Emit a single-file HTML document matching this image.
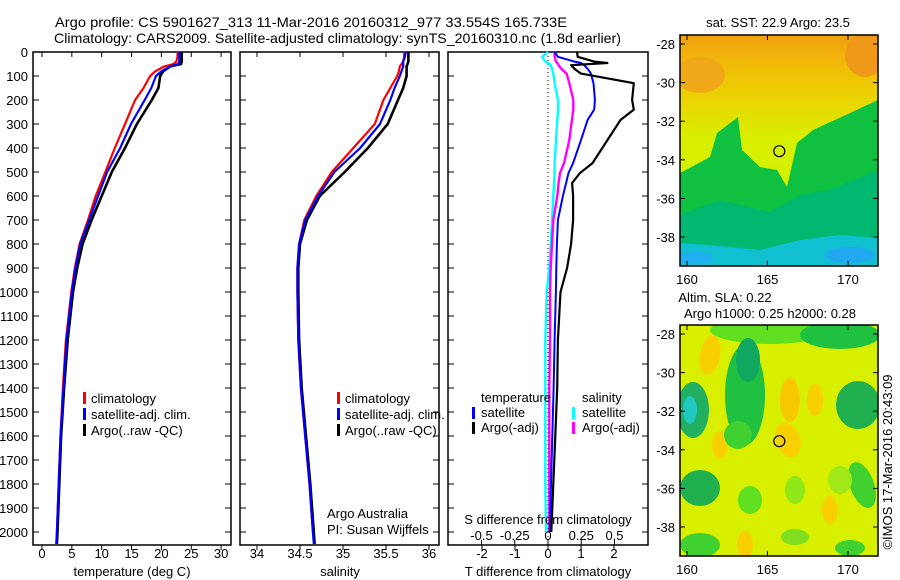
<!DOCTYPE html>
<html><head><meta charset="utf-8"><title>Argo profile</title>
<style>
html,body{margin:0;padding:0;background:#fff;}
svg{display:block;font-family:"Liberation Sans",sans-serif;}
text{fill:#000;}
</style></head>
<body>
<svg id="fig" width="900" height="580" viewBox="0 0 900 580" xmlns="http://www.w3.org/2000/svg">
<text x="55" y="27" font-size="14" textLength="512" lengthAdjust="spacingAndGlyphs">Argo profile: CS 5901627_313 11-Mar-2016 20160312_977 33.554S 165.733E</text>
<text x="54" y="43" font-size="14" textLength="567" lengthAdjust="spacingAndGlyphs">Climatology: CARS2009. Satellite-adjusted climatology: synTS_20160310.nc (1.8d earlier)</text>
<g id="plots"></g>
<g id="maps"></g>
</svg>
<script>
// ---------- data ----------
const depthLevels = [0,20,40,50,60,80,100,150,200,300,400,500,600,700,800,900,1000,1200,1400,1600,1800,2000,2050];
const tempClim    = [22.7,22.7,22.5,22,20.5,19,18.1,17,15.6,13.9,12.2,10.6,9.0,7.7,6.3,5.5,4.9,4.0,3.5,3.1,2.8,2.5,2.4];
const tempSat     = [23.0,23.0,23.0,22.8,21.5,20,19.1,18.3,17.2,14.9,13.1,10.9,9.4,7.9,6.4,5.6,5.0,4.1,3.6,3.1,2.8,2.5,2.4];
const tempArgo    = [23.4,23.4,23.4,23.3,21.5,20.3,19.8,19.5,18.4,15.9,13.9,11.7,10.0,8.3,6.8,5.9,5.2,4.3,3.7,3.2,2.9,2.6,2.5];
const salClim     = [35.71,35.71,35.70,35.68,35.66,35.65,35.63,35.55,35.47,35.37,35.12,34.87,34.69,34.55,34.49,34.47,34.47,34.48,34.51,34.56,34.61,34.65,34.67];
const salSat      = [35.73,35.72,35.70,35.70,35.70,35.68,35.66,35.60,35.55,35.43,35.20,34.90,34.71,34.56,34.49,34.47,34.47,34.48,34.51,34.56,34.61,34.65,34.66];
const salArgo     = [35.76,35.76,35.76,35.75,35.74,35.74,35.74,35.70,35.64,35.52,35.29,35.02,34.73,34.58,34.50,34.48,34.48,34.49,34.52,34.57,34.62,34.66,34.67];
const diffDepths  = [0,20,40,46,55,70,90,130,200,240,283,367,463,504,546,600,700,800,900,1000,1200,1400,1600,1800,2000];
const tDiffSat    = [0.2,0.3,0.8,1.0,1.1,1.2,1.3,1.38,1.42,1.4,1.2,1.0,0.76,0.62,0.55,0.45,0.3,0.27,0.25,0.24,0.2,0.17,0.13,0.09,0.05];
const tDiffArgo   = [0.88,0.9,1.4,1.8,0.7,0.8,1.0,2.6,2.55,2.6,2.2,1.8,1.35,0.97,0.73,0.76,0.76,0.7,0.58,0.38,0.3,0.28,0.22,0.16,0.1];
const sDiffSat    = [0,-0.045,-0.02,0.0,0.02,0.03,0.04,0.05,0.075,0.075,0.07,0.06,0.05,0.05,0.045,0.04,0.03,0.02,0.01,-0.01,-0.02,-0.02,-0.02,-0.02,-0.015];
const sDiffArgo   = [0.05,0.05,0.06,0.07,0.08,0.1,0.14,0.16,0.19,0.19,0.18,0.16,0.12,0.09,0.08,0.07,0.04,0.03,0.02,0.015,0.015,0.01,0.01,0.01,0.01];
const depthTicks  = [0,100,200,300,400,500,600,700,800,900,1000,1100,1200,1300,1400,1500,1600,1700,1800,1900,2000];
const tempTicks   = [0,5,10,15,20,25,30];
const salTicks    = [34,34.5,35,35.5,36];
const tDiffTicks  = [-2,-1,0,1,2];
const sDiffTicks  = [-0.5,-0.25,0,0.25,0.5];
const latTicks    = [-28,-30,-32,-34,-36,-38];
const lonTicks    = [160,165,170];
const argoLon = 165.733, argoLat = -33.554;

// ---------- helpers ----------
const NS='http://www.w3.org/2000/svg';
const plots=document.getElementById('plots');
const maps=document.getElementById('maps');
function mk(tag,attrs,parent){const e=document.createElementNS(NS,tag);for(const k in attrs)e.setAttribute(k,attrs[k]);(parent||plots).appendChild(e);return e;}
const TOP=52, BOT=545;
const yD = d => TOP + d*0.24;
const xT = v => 42 + v*5.97;
const xS = v => 257 + (v-34)*86;
const xTD = v => 548 + v*33;
const xSD = v => 548 + v*133;

function panel(x0,x1,name){
  const r=mk('rect',{x:x0,y:TOP,width:x1-x0,height:BOT-TOP,fill:'none',stroke:'#000','stroke-width':1.5});
  
  
  depthTicks.forEach(d=>{
    const y=yD(d);
    const t1=mk('line',{x1:x0,x2:x0+6,y1:y,y2:y,stroke:'#000'});
    
    
    const t2=mk('line',{x1:x1-6,x2:x1,y1:y,y2:y,stroke:'#000'});
    
    
  });
}
function xticks(ticks,fx,labelY,name,top){
  ticks.forEach(v=>{
    const x=fx(v);
    const l=mk('line',{x1:x,x2:x,y1:BOT,y2:BOT+5,stroke:'#000'});
    
    
    if(top){
      const l2=mk('line',{x1:x,x2:x,y1:TOP,y2:TOP+5,stroke:'#000'});
      
      
    }
    const t=mk('text',{x:x,y:labelY,'font-size':13,'text-anchor':'middle'});
    t.textContent=String(v);
    
    
  });
}
function series(depths,vals,fx,color,w,name){
  const pts=depths.map((d,i)=>fx(vals[i]).toFixed(1)+','+yD(d).toFixed(1)).join(' ');
  const p=mk('polyline',{points:pts,fill:'none',stroke:color,'stroke-width':w,'stroke-linejoin':'round'});
  
  
}
function txt(x,y,s,size,name,anchor){
  const t=mk('text',{x:x,y:y,'font-size':size,'text-anchor':anchor||'start'});
  t.textContent=s;
  
  
  return t;
}
function legendBar(x,y,color,name){
  const r=mk('rect',{x:x,y:y-10,width:3,height:12,fill:color});
  
  
}

// depth axis labels
depthTicks.forEach(d=>{
  txt(28,yD(d)+5,String(d),13,'depth-label','end');
});

// ---------- temperature panel ----------
panel(33,231,'temperature-panel');
xticks(tempTicks,xT,558,'temperature-axis',true);
series(depthLevels,tempClim,xT,'#ff0000',2.2,'temp-climatology-line');
series(depthLevels,tempArgo,xT,'#000000',2.6,'temp-argo-line');
series(depthLevels,tempSat,xT,'#0000ff',2.2,'temp-satellite-line');
txt(132,576,'temperature (deg C)',13,'temperature-axis-title','middle');
legendBar(83,402,'#ff0000','legend-climatology-swatch');
txt(91,403,'climatology',13,'legend-climatology');
legendBar(83,418,'#0000ff','legend-satellite-swatch');
txt(91,419,'satellite-adj. clim.',13,'legend-satellite');
legendBar(83,434,'#000000','legend-argo-swatch');
txt(91,435,'Argo(..raw -QC)',13,'legend-argo');

// ---------- salinity panel ----------
panel(240,439,'salinity-panel');
xticks(salTicks,xS,558,'salinity-axis',true);
series(depthLevels,salClim,xS,'#ff0000',2.2,'sal-climatology-line');
series(depthLevels,salArgo,xS,'#000000',2.6,'sal-argo-line');
series(depthLevels,salSat,xS,'#0000ff',2.2,'sal-satellite-line');
txt(340,576,'salinity',13,'salinity-axis-title','middle');
legendBar(337,402,'#ff0000','sal-legend-climatology-swatch');
txt(345,403,'climatology',13,'sal-legend-climatology');
legendBar(337,418,'#0000ff','sal-legend-satellite-swatch');
txt(345,419,'satellite-adj. clim.',13,'sal-legend-satellite');
legendBar(337,434,'#000000','sal-legend-argo-swatch');
txt(345,435,'Argo(..raw -QC)',13,'sal-legend-argo');
txt(327,518,'Argo Australia',13,'credit-argo-australia');
txt(327,534,'PI: Susan Wijffels',13,'credit-pi');

// ---------- difference panel ----------
panel(448,648,'difference-panel');
const zl=mk('line',{x1:548,x2:548,y1:TOP,y2:BOT,stroke:'#000','stroke-dasharray':'1,3'});


xticks(tDiffTicks,xTD,558,'t-diff-axis',false);
sDiffTicks.forEach(v=>{
  const x=xSD(v);
  const l=mk('line',{x1:x,x2:x,y1:BOT-5,y2:BOT,stroke:'#000'});
  
  
  txt(x,540,String(v),13,'s-diff-label','middle');
});
series(diffDepths,sDiffSat,xSD,'#00ffff',2.4,'s-diff-satellite-line');
series(diffDepths,sDiffArgo,xSD,'#ff00ff',2.4,'s-diff-argo-line');
series(diffDepths,tDiffSat,xTD,'#0000ff',2,'t-diff-satellite-line');
series(diffDepths,tDiffArgo,xTD,'#000000',2.2,'t-diff-argo-line');
txt(548,524,'S difference from climatology',13,'s-diff-axis-title','middle');
txt(548,576,'T difference from climatology',13,'t-diff-axis-title','middle');
txt(481,402,'temperature',13,'legend-temperature-heading');
txt(582,402,'salinity',13,'legend-salinity-heading');
legendBar(472,417,'#0000ff','legend-t-satellite-swatch');
txt(481,417,'satellite',13,'legend-t-satellite');
legendBar(472,432,'#000000','legend-t-argo-swatch');
txt(481,432,'Argo(-adj)',13,'legend-t-argo');
legendBar(572,417,'#00ffff','legend-s-satellite-swatch');
txt(582,417,'satellite',13,'legend-s-satellite');
legendBar(572,432,'#ff00ff','legend-s-argo-swatch');
txt(582,432,'Argo(-adj)',13,'legend-s-argo');

// ---------- maps ----------
const mlon = v => 687 + (v-160)*16.1;
function drawMap(y0,name,titleLines,shapes){
  const g=mk('g',{},maps);
  
  
  const cid='clip-'+name;
  const cp=mk('clipPath',{id:cid},g);
  mk('rect',{x:680,y:y0,width:198,height:231},cp);
  const inner=mk('g',{'clip-path':'url(#'+cid+')'},g);
  shapes(inner,y0);
  const lat = v => y0+9 + (-28-v)*19.3;
  const f=mk('rect',{x:680,y:y0,width:198,height:231,fill:'none',stroke:'#000','stroke-width':1.5},g);
  
  
  latTicks.forEach(v=>{
    const y=lat(v);
    mk('line',{x1:680,x2:685,y1:y,y2:y,stroke:'#000'},g);
    mk('line',{x1:873,x2:878,y1:y,y2:y,stroke:'#000'},g);
    const t=mk('text',{x:675,y:y+5,'font-size':13,'text-anchor':'end'},g);
    t.textContent=String(v);
    
    
  });
  lonTicks.forEach(v=>{
    const x=mlon(v);
    mk('line',{x1:x,x2:x,y1:y0,y2:y0+5,stroke:'#000'},g);
    mk('line',{x1:x,x2:x,y1:y0+226,y2:y0+231,stroke:'#000'},g);
    const t=mk('text',{x:x,y:y0+249,'font-size':13,'text-anchor':'middle'},g);
    t.textContent=String(v);
    
    
  });
  const c=mk('circle',{cx:mlon(argoLon),cy:lat(argoLat),r:5.5,fill:'none',stroke:'#000','stroke-width':1.2},g);
  
  
  titleLines.forEach((s,i)=>{
    const t=mk('text',{x:s[1],y:s[2],'font-size':13,'text-anchor':'middle'},g);
    t.textContent=s[0];
    
    
  });
}
drawMap(35,'sst-map',[['sat. SST: 22.9 Argo: 23.5',778,27]],(g,y0)=>{
  const gr=mk('linearGradient',{id:'sstg',x1:0,y1:0,x2:0,y2:1},g);
  [['0','#f0a010'],['0.12','#f2b808'],['0.3','#e8d800'],['0.45','#d8f000'],['1','#c8f000']].forEach(s=>mk('stop',{offset:s[0],'stop-color':s[1]},gr));
  mk('rect',{x:680,y:y0,width:198,height:231,fill:'url(#sstg)'},g);
  mk('ellipse',{cx:700,cy:75,rx:25,ry:18,fill:'#f0a818'},g);
  mk('ellipse',{cx:865,cy:55,rx:20,ry:22,fill:'#f09818'},g);
  mk('polygon',{points:'680,173 710,157 717,133 738,117 742,150 760,167 777,170 787,187 797,143 813,130 850,113 878,100 878,266 680,266',fill:'#10c040'},g);
  mk('polygon',{points:'680,215 720,200 770,212 800,195 830,190 878,170 878,266 680,266',fill:'#00b870'},g);
  mk('polygon',{points:'680,243 720,246 760,250 800,240 840,235 878,238 878,266 680,266',fill:'#10c0d0'},g);
  mk('ellipse',{cx:850,cy:255,rx:25,ry:8,fill:'#20a8f0'},g);
  mk('ellipse',{cx:695,cy:258,rx:18,ry:6,fill:'#20b0f0'},g);
});
drawMap(325,'sla-map',[['Altim. SLA: 0.22',725,302],['Argo h1000: 0.25 h2000: 0.28',770,318]],(g,y0)=>{
  mk('rect',{x:680,y:y0,width:198,height:231,fill:'#d8f000'},g);
  const blob=(cx,cy,rx,ry,col,rot)=>mk('ellipse',{cx:cx,cy:cy,rx:rx,ry:ry,fill:col,transform:'rotate('+(rot||0)+' '+cx+' '+cy+')'},g);
  blob(710,355,10,20,'#f8d000',10);
  blob(788,440,12,18,'#f8d000',-20);
  blob(790,400,10,22,'#f8c800',0);
  blob(815,400,8,16,'#f8d000',0);
  blob(745,545,8,14,'#f8d000',0);
  blob(830,510,8,14,'#f8d000',0);
  blob(720,445,8,14,'#f8d000',0);
  blob(770,330,60,14,'#60e020',0);
  blob(840,335,40,14,'#20c040',0);
  blob(745,395,20,50,'#20c040',0);
  blob(748,360,12,22,'#10a860',0);
  blob(693,410,16,28,'#20b060',0);
  blob(690,410,7,14,'#20c8c0',0);
  blob(858,405,22,24,'#20b050',0);
  blob(700,488,20,18,'#20b050',0);
  blob(738,435,14,14,'#40d030',0);
  blob(750,500,12,14,'#60e020',0);
  blob(795,490,10,14,'#90e818',0);
  blob(795,537,14,8,'#80e020',0);
  blob(862,485,12,24,'#40d030',-20);
  blob(840,480,12,14,'#a0e818',0);
  blob(700,545,20,12,'#40d030',0);
  blob(850,548,15,8,'#40d030',0);
});
const cr=mk('text',{x:0,y:0,'font-size':13,'text-anchor':'middle',transform:'translate(892,462) rotate(-90)'},maps);
cr.textContent='\u00a9IMOS 17-Mar-2016 20:43:09';


</script>
</body></html>
